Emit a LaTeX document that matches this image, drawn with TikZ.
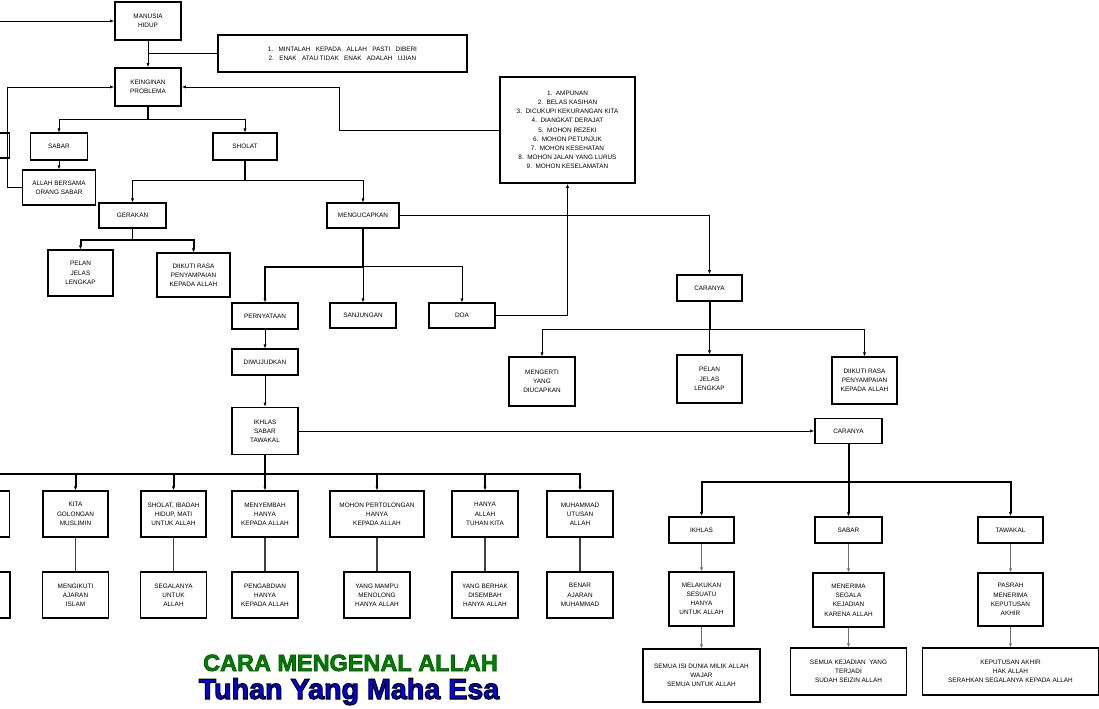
\documentclass[tikz,border=0pt]{standalone}
\usepackage{fontspec}
\setmainfont{Liberation Sans}
\usetikzlibrary{arrows.meta}

\newcommand\boxfont{\fontsize{4.8}{6.9}\selectfont}
% outline text: fill in the current colour, stroke in #1 (rgb)
\newcommand\garisluar[3]{\special{pdf:literal direct 2 Tr #2 w #1 RG}#3\special{pdf:literal direct 0 Tr}}
\definecolor{judulhijau}{RGB}{0,128,0}
\definecolor{judulbiru}{RGB}{0,0,245}

\begin{document}
\begin{tikzpicture}[x=0.75pt,y=-0.75pt,
    box/.style 2 args={draw,line width=0.8pt,align=center,font=\boxfont,inner sep=0pt,
      minimum width=#1*0.75pt,minimum height=#2*0.75pt},
    tebal/.style={line width=1.2pt},
    panah/.style={-{Latex[length=3pt,width=2.4pt]},line width=0.7pt},
    garis/.style={line width=0.7pt},
    batang/.style={line width=1.5pt},
    abu/.style={draw=black!55}]

    \fill[white] (0,0) rectangle (1099,709);
    \useasboundingbox (0,0) rectangle (1099,709);
    \clip (0,0) rectangle (1099,709);

    % Top
    \coordinate (masuk) at (0,21);
    \node[box={66}{38},tebal] (manusia) at (148,21) {MANUSIA\\HIDUP};
    \node[box={249}{37},tebal] (pesan) at (342.5,53.5)
        {1.~~~MINTALAH~~~KEPADA~~~ALLAH~~~PASTI~~~DIBERI\\2.~~~ENAK~~~ATAU TIDAK~~~ENAK~~~ADALAH~~~UJIAN};
    \node[box={66}{38},tebal] (keinginan) at (148,87) {KEINGINAN\\PROBLEMA};
    \node[box={135}{106},tebal] (doalist) at (567.5,130)
        {1.~~AMPUNAN\\2.~~BELAS KASIHAN\\3.~~DICUKUPI KEKURANGAN KITA\\4.~~DIANGKAT DERAJAT\\5.~~MOHON REZEKI\\6.~~MOHON PETUNJUK\\7.~~MOHON KESEHATAN\\8.~~MOHON JALAN YANG LURUS\\9.~~MOHON KESELAMATAN};

    \draw[panah] (masuk) -- (manusia.west);
    \draw[panah] (manusia.south) -- (keinginan.north);
    \draw[garis] (pesan.west) -- (pesan.west -| manusia.south);

    % Sabar / Sholat
    \node[box={65}{25}] (kiriatas) at (-23,145.5) {};
    \node[box={57}{27}] (sabar) at (59,146.5) {SABAR};
    \node[box={64}{27}] (sholat) at (245,146.5) {SHOLAT};
    \node[box={73}{35}] (bersama) at (59,187.5) {ALLAH BERSAMA\\ORANG SABAR};

    \draw[batang] (keinginan.south) -- ++(0,13);
    \draw[panah] (keinginan.south) ++(0,13) -| (sabar.north);
    \draw[panah] (keinginan.south) ++(0,13) -| (sholat.north);
    \draw[panah] (sabar.south) -- (bersama.north);
    \draw[panah] (bersama.west) -- ++(-15,0) |- (keinginan.west);
    \draw[panah] (doalist.west) -- ++(-160,0) |- (keinginan.east);

    % Gerakan / Mengucapkan
    \node[box={67}{25}] (gerakan) at (132.5,215.5) {GERAKAN};
    \node[box={72}{25}] (mengucapkan) at (363,215.5) {MENGUCAPKAN};
    \node[box={65}{46}] (pelan) at (80.5,273) {PELAN\\JELAS\\LENGKAP};
    \node[box={73}{44}] (diikuti) at (193.5,275) {DIIKUTI RASA\\PENYAMPAIAN\\KEPADA ALLAH};

    \draw[batang] (sholat.south) -- ++(0,20);
    \draw[panah] (sholat.south) ++(0,20) -| (gerakan.north);
    \draw[panah] (sholat.south) ++(0,20) -| (mengucapkan.north);
    \draw[garis] (gerakan.south) -- ++(0,11);
    \draw[panah,batang] (gerakan.south) ++(0,11) -| (pelan.north);
    \draw[panah,batang] (gerakan.south) ++(0,11) -| (diikuti.north);

    % Pernyataan, Sanjungan, Doa
    \node[box={66}{26}] (pernyataan) at (265,316) {PERNYATAAN};
    \node[box={66}{25}] (sanjungan) at (363,315.5) {SANJUNGAN};
    \node[box={66}{25}] (doa) at (462,315.5) {DOA};
    \node[box={66}{26}] (diwujudkan) at (265,362) {DIWUJUDKAN};
    \node[box={66}{47},tebal] (ikhlas) at (265,431) {IKHLAS\\SABAR\\TAWAKAL};

    \draw[batang] (mengucapkan.south) -- ++(0,38);
    \draw[panah,batang] (mengucapkan.south) ++(0,38) -| (pernyataan.north);
    \draw[panah] (mengucapkan.south) ++(0,38) -- (sanjungan.north);
    \draw[panah] (mengucapkan.south) ++(0,38) -| (doa.north);
    \draw[panah] (doa.east) -| (doalist.south);
    \draw[panah] (pernyataan.south) -- (diwujudkan.north);
    \draw[panah] (diwujudkan.south) -- (ikhlas.north);

    % Caranya (mengucapkan)
    \node[box={65}{26},tebal] (caranya) at (709.5,288) {CARANYA};
    \node[box={66}{49}] (mengerti) at (542,381.5) {MENGERTI\\YANG\\DIUCAPKAN};
    \node[box={65}{48}] (pelandua) at (709.5,379) {PELAN\\JELAS\\LENGKAP};
    \node[box={65}{47}] (diikutidua) at (864.5,380.5) {DIIKUTI RASA\\PENYAMPAIAN\\KEPADA ALLAH};

    \draw[panah] (mengucapkan.east) -| (caranya.north);
    \draw[batang] (caranya.south) -- ++(0,28);
    \draw[panah] (caranya.south) ++(0,28) -| (mengerti.north);
    \draw[panah] (caranya.south) ++(0,28) -- (pelandua.north);
    \draw[panah] (caranya.south) ++(0,28) -| (diikutidua.north);

    % Caranya (ikhlas sabar tawakal)
    \node[box={67}{25},tebal] (carakedua) at (848.5,431) {CARANYA};
    \node[box={65}{26},tebal] (ikhlasdua) at (701.5,530) {IKHLAS};
    \node[box={67}{26}] (sabardua) at (848.5,530) {SABAR};
    \node[box={65}{26},tebal] (tawakal) at (1010.5,530) {TAWAKAL};
    \node[box={65}{54}] (melakukan) at (701.5,599) {MELAKUKAN\\SESUATU\\HANYA\\UNTUK ALLAH};
    \node[box={71}{54}] (menerima) at (848.5,600) {MENERIMA\\SEGALA\\KEJADIAN\\KARENA ALLAH};
    \node[box={65}{53}] (pasrah) at (1010.5,599.5) {PASRAH\\MENERIMA\\KEPUTUSAN\\AKHIR};
    \node[box={117}{53}] (semuaisi) at (701.5,675.5) {SEMUA ISI DUNIA MILIK ALLAH\\WAJAR\\SEMUA UNTUK ALLAH};
    \node[box={116}{47}] (semuakejadian) at (848.5,671.5) {SEMUA KEJADIAN~~YANG\\TERJADI\\SUDAH SEIZIN ALLAH};
    \node[box={176}{47}] (keputusan) at (1010.5,671.5) {KEPUTUSAN AKHIR\\HAK ALLAH\\SERAHKAN SEGALANYA KEPADA ALLAH};

    \draw[panah] (ikhlas.east) -- (carakedua.west);
    \draw[batang] (carakedua.south) -- ++(0,37.5);
    \draw[panah,batang] (carakedua.south) ++(0,37.5) -| (ikhlasdua.north);
    \draw[panah,batang] (carakedua.south) ++(0,37.5) -- (sabardua.north);
    \draw[panah,batang] (carakedua.south) ++(0,37.5) -| (tawakal.north);
    \foreach \a/\b/\c in {ikhlasdua/melakukan/semuaisi, sabardua/menerima/semuakejadian, tawakal/pasrah/keputusan} {
        \draw[panah,abu] (\a.south) -- (\b.north);
        \draw[panah,abu] (\b.south) -- (\c.north);
    }

    % Bottom row
    \draw[batang] (ikhlas.south) -- ++(0,18.5);
    \foreach \nama/\x/\w/\atas/\bawah in {
        kiri/-23/65/{}/{},
        kita/75.5/65/{KITA\\GOLONGAN\\MUSLIMIN}/{MENGIKUTI\\AJARAN\\ISLAM},
        ibadah/173.5/65/{SHOLAT, IBADAH\\HIDUP, MATI\\UNTUK ALLAH}/{SEGALANYA\\UNTUK\\ALLAH},
        menyembah/265/66/{MENYEMBAH\\HANYA\\KEPADA ALLAH}/{PENGABDIAN\\HANYA\\KEPADA ALLAH},
        mohon/377/94/{MOHON PERTOLONGAN\\HANYA\\KEPADA ALLAH}/{YANG MAMPU\\MENOLONG\\HANYA ALLAH},
        tuhan/485/66/{HANYA\\ALLAH\\TUHAN KITA}/{YANG BERHAK\\DISEMBAH\\HANYA ALLAH},
        muhammad/580/66/{MUHAMMAD\\UTUSAN\\ALLAH}/{BENAR\\AJARAN\\MUHAMMAD}} {
        \node[box={\w}{46}] (a\nama) at (\x,514) {\atas};
        \node[box={66}{46}] (b\nama) at (\x,595) {\bawah};
        \draw[panah,batang] (ikhlas.south) ++(0,18.5) -| (a\nama.north);
        \draw[garis,draw=black!75,line width=0.9pt] (a\nama.south) -- (b\nama.north);
    }

    % Title
    \node[font=\fontsize{17.6}{20}\selectfont\bfseries,text=judulhijau,anchor=base,inner sep=1pt] (judul) at (350.5,671)
        {\garisluar{0 0.33 0}{0.5}{CARA MENGENAL ALLAH}};
    \node[font=\fontsize{21.5}{24}\selectfont\bfseries,text=judulbiru,anchor=base,inner sep=1pt] (subjudul) at (349,699)
        {\garisluar{0 0 0}{0.8}{Tuhan Yang Maha Esa}};
\end{tikzpicture}
\end{document}
